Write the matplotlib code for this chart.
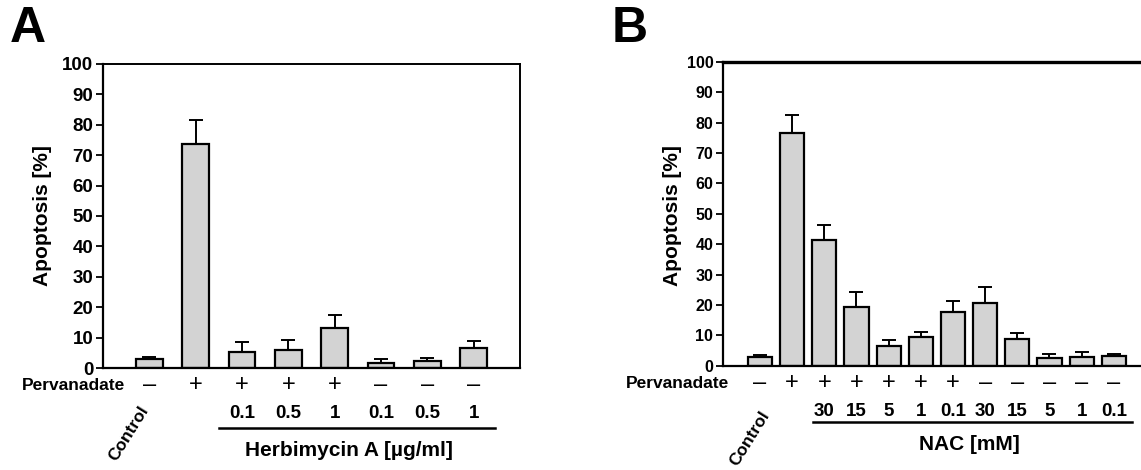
import numpy as np
import matplotlib.pyplot as plt
import matplotlib.transforms as mtransforms

plt.rcParams["font.family"] = ["Liberation Sans", "DejaVu Sans"]
plt.rcParams["font.weight"] = "bold"

# Panel A: herbimycin A
a_values = [2.9, 73.6, 5.4, 5.9, 13.2, 1.9, 2.5, 6.6]
a_errors = [0.7, 7.9, 3.2, 3.3, 4.4, 1.1, 1.0, 2.5]
a_perv = ["–", "+", "+", "+", "+", "–", "–", "–"]
a_dose = ["", "", "0.1", "0.5", "1", "0.1", "0.5", "1"]

# Panel B: NAC
b_values = [2.8, 76.5, 41.3, 19.4, 6.6, 9.3, 17.8, 20.8, 8.7, 2.5, 2.9, 3.1]
b_errors = [0.8, 6.0, 4.9, 5.0, 2.0, 1.8, 3.6, 5.2, 2.1, 1.3, 1.5, 0.6]
b_perv = ["–", "+", "+", "+", "+", "+", "+", "–", "–", "–", "–", "–"]
b_dose = ["", "", "30", "15", "5", "1", "0.1", "30", "15", "5", "1", "0.1"]

W, H = 1141, 470
fig = plt.figure(figsize=(W / 100, H / 100), dpi=100)


def fy(ypix):
    return 1 - ypix / H


def panel(rect, values, errors, perv, dose, xlim, width, tick_fs, letter, letter_x,
          ylab_x, perv_x, rows_y, control_xy, dose_span, dose_label, dose_label_x,
          right_spine, top_lw):
    ax = fig.add_axes(rect)
    x = np.arange(len(values))
    ax.bar(x, values, width=width, color="#d3d3d3", edgecolor="black", linewidth=1.6, zorder=2)
    ax.errorbar(x, values, yerr=[np.zeros(len(errors)), errors], fmt="none",
                ecolor="black", elinewidth=1.4, capsize=5, capthick=1.4, zorder=1)
    ax.set_xlim(*xlim)
    ax.set_ylim(0, 100)
    ax.set_yticks(range(0, 101, 10))
    ax.set_xticks([])
    for lab in ax.get_yticklabels():
        lab.set_fontweight("bold")
        lab.set_fontsize(tick_fs)
    ax.tick_params(axis="y", direction="out", length=5, width=1.3, pad=2)
    for s in ax.spines.values():
        s.set_linewidth(1.4)
    ax.spines["left"].set_linewidth(1.6)
    ax.spines["bottom"].set_linewidth(1.6)
    ax.spines["top"].set_linewidth(top_lw)
    ax.spines["right"].set_visible(right_spine)

    perv_y, dose_y, line_y, label_y = rows_y
    tr = mtransforms.blended_transform_factory(ax.transData, fig.transFigure)
    fig.text(letter_x / W, fy(29), letter, fontsize=36, fontweight="bold", ha="center", va="center")
    fig.text(ylab_x / W, fy(216), "Apoptosis [%]", fontsize=15, fontweight="bold",
             rotation=90, ha="center", va="center")
    fig.text(perv_x / W, fy(perv_y), "Pervanadate", fontsize=12.5, fontweight="bold",
             ha="right", va="center")
    for xi, p in zip(x, perv):
        ax.text(xi, fy(perv_y), p, transform=tr, fontsize=17, fontweight="normal",
                ha="center", va="center")
    for xi, d in zip(x, dose):
        if d:
            ax.text(xi, fy(dose_y), d, transform=tr, fontsize=13.5, fontweight="bold",
                    ha="center", va="center")
    fig.text(control_xy[0] / W, fy(control_xy[1]), "Control", fontsize=12.5,
             fontweight="bold", rotation=58, ha="center", va="center")
    line = plt.Line2D(dose_span, [fy(line_y), fy(line_y)], transform=tr, color="black",
                      linewidth=1.8, clip_on=False)
    ax.add_artist(line)
    ax.text(dose_label_x, fy(label_y), dose_label, transform=tr, fontsize=15,
            fontweight="bold", ha="center", va="center")
    return ax


panel([103 / W, fy(368.3), (520 - 103) / W, (368.3 - 63.7) / H],
      a_values, a_errors, a_perv, a_dose, (-1, 8), 0.58, 13.5, "A", 28,
      43, 125, (385, 413, 428, 450), (129, 433), [1.5, 7.45],
      "Herbimycin A [µg/ml]", 4.3, True, 1.4)

panel([723 / W, fy(365.7), (1146 - 723) / W, (365.7 - 62) / H],
      b_values, b_errors, b_perv, b_dose, (-1.15, 12.0), 0.75, 11.5, "B", 630,
      672, 729, (383, 412, 422, 445), (750, 438), [1.65, 11.55],
      "NAC [mM]", 6.5, False, 2.4)

fig.savefig("out.png", dpi=100)
